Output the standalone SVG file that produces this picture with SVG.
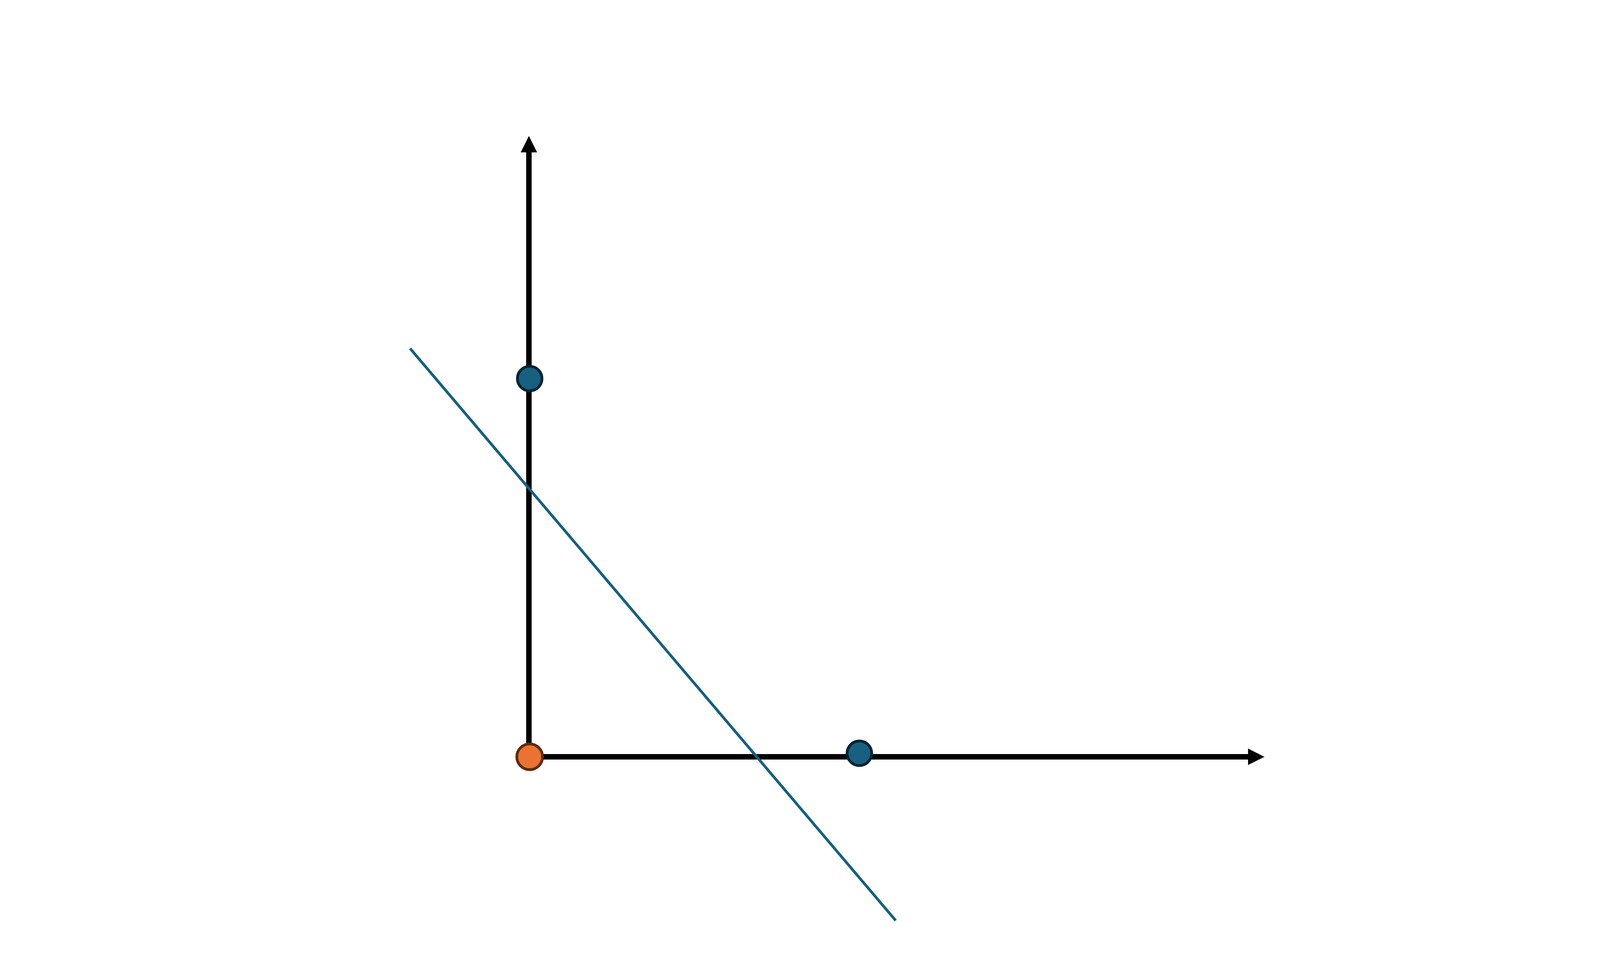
<svg xmlns="http://www.w3.org/2000/svg" width="4400" height="2475" viewBox="0 0 4400 2475">
<style>
.axis{stroke:#000;stroke-width:14;fill:none}
.fit{stroke:#14607F;stroke-width:7;fill:none;stroke-linecap:butt}
.blue{fill:#17607F;stroke:#042333;stroke-width:7}
.orange{fill:#EA7331;stroke:#5F2B0E;stroke-width:7}
</style>
<defs>
<marker id="arr" markerUnits="userSpaceOnUse" markerWidth="42" markerHeight="42" refX="0" refY="21" orient="auto" viewBox="0 0 42 42">
<path d="M0,0 L42,21 L0,42 Z" fill="#000"/>
</marker>
</defs>
<rect width="4400" height="2475" fill="#fff"/>
<g id="connectors">
<line class="axis" x1="1354" y1="1937" x2="1354" y2="390" marker-end="url(#arr)"/>
<line class="axis" x1="1354" y1="1937" x2="3195" y2="1937" marker-end="url(#arr)"/>
<line id="fit-line" class="fit" x1="1050" y1="892" x2="2293" y2="2356"/>
</g>
<g id="point-y"><circle class="blue" cx="1356" cy="969" r="31.5"/></g>
<g id="point-x"><circle class="blue" cx="2200" cy="1928" r="31.5"/></g>
<g id="origin"><circle class="orange" cx="1356" cy="1937" r="33"/></g>
</svg>
